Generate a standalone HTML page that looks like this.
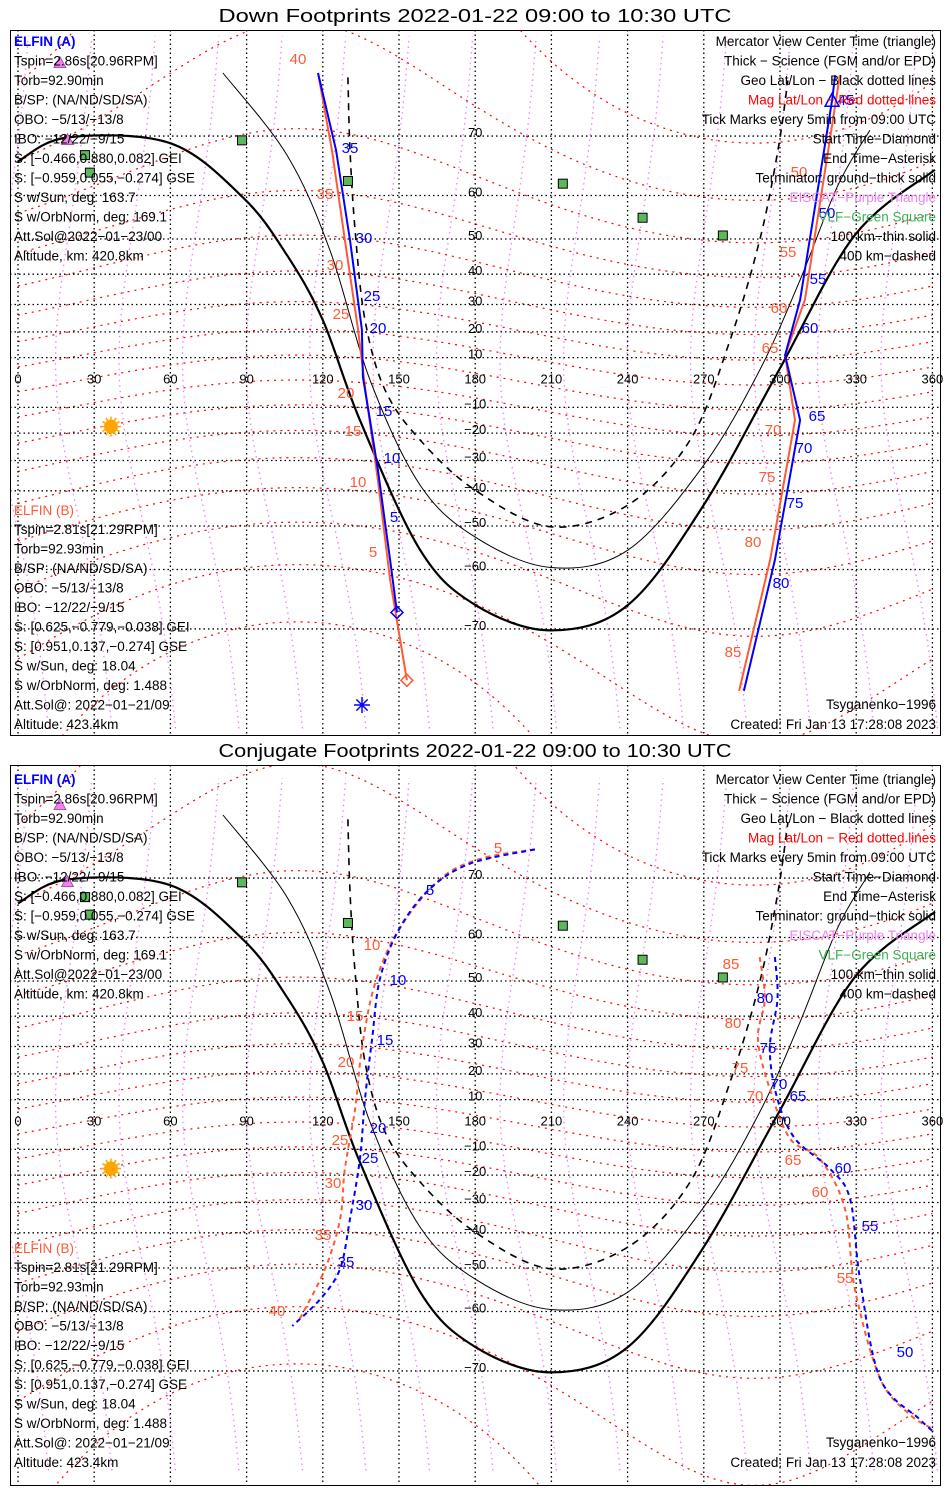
<!DOCTYPE html>
<html><head><meta charset="utf-8">
<style>
html,body{margin:0;padding:0;background:#fff;}
svg{display:block;font-family:"Liberation Sans",sans-serif;}
</style></head>
<body>
<svg id="chart" width="950" height="1500" viewBox="0 0 950 1500" xmlns="http://www.w3.org/2000/svg"></svg>
<script>
// ---------- data (lon, lat in degrees) ----------
const lonTicks = [0,30,60,90,120,150,180,210,240,270,300,330,360];
const latTicks = [70,60,50,40,30,20,10,-10,-20,-30,-40,-50,-60,-70];
const termGround = [[0,66.2],[19.3,69.8],[59.8,69.0],[88.6,59.6],[105.9,45.6],[120,24.4],[134.6,-15.0],[158.3,-55.8],[180,-66.4],[209.8,-70.2],[240.2,-66.4],[270,-44.2],[299.6,5.0],[329.5,51],[361,64.8]];
const term100 = [[80.7,77.1],[105.9,67.2],[122.8,47.0],[138.6,1.0],[158.3,-38.2],[180,-52.8],[209.8,-59.6],[240.2,-55.8],[270,-31.6],[292,5.0],[307.9,38.2],[322.8,62.0],[335.4,70.8]];
const term400 = [[129.9,76.7],[130.7,68],[132.7,52.2],[136.6,24.4],[144.5,-3.0],[158.3,-22.6],[180,-39.8],[209.8,-50.2],[240.2,-44.2],[264.6,-22.6],[280.3,16.8],[292,49.7],[299.2,68],[303.1,76.4]];
// Down footprints
const downA1 = [[118.1,77.1],[125.2,68.0],[130.7,49.7],[135.4,20.8],[135.8,2.2],[138.6,-15.0],[141.7,-33.2],[146.5,-58.0],[149.2,-67.6]];
const downB1 = [[118.1,77.1],[123.6,68],[128.7,49.7],[133.9,20.8],[137.0,-5.0],[141.7,-36.6],[146.5,-62.0],[153.1,-76.0]];
const downA2 = [[321.7,76.9],[320.5,74.4],[307.9,31.6],[302.0,11.0],[307.9,-15.0],[298.0,-58.0],[285.8,-77.0]];
const downB2 = [[323.6,76.9],[309.8,31.6],[302,11],[305.9,-15],[296.1,-58],[283.9,-77]];
// Conjugate footprints
const conjA1 = [[203.5,73.6],[178,71.9],[162,68.4],[150,61.6],[142.5,50.5],[139.4,32.6],[136.6,10.2],[134.6,-13.8],[130.7,-35.6],[126.8,-50.2],[119,-57.4],[108,-62.8]];
const conjB1 = [[203.5,73.6],[182,72.5],[166,69.8],[150,61.6],[140.5,49.2],[135.4,29.2],[132.7,6.2],[128.7,-17.6],[126.8,-35.6],[120.9,-50.2],[111,-61.4]];
const conjA2 = [[298,55.8],[299,45.1],[296,29.2],[299,10.2],[306,-5.8],[319.7,-17.6],[327.6,-28.8],[331.5,-52.8],[339.4,-71],[355,-75.7],[361,-77]];
const conjB2 = [[292,55.8],[294,45.1],[291.3,32.6],[296,14.2],[304,-5.8],[315.7,-13.8],[325.6,-32.2],[329.5,-55.2],[339.4,-71],[351,-75.2],[360,-76.6]];
const vlfSites = [[88.2,69.4],[26.4,67.2],[28.3,64.3],[129.9,62.8],[214.5,62.3],[245.9,55.2],[277.5,50.9]];
const eiscatSites = [[16.5,78],[19.5,69.5]];
const sunPos = [36.6,-17.5];
// tick labels: [text, x, y] relative to page
const downLabA = [["35",350,148],["30",364,238],["25",372,296],["20",378,328],["15",384,411],["10",392,458],["5",394,517],["45",846,100],["50",827,213],["55",818,279],["60",810,328],["65",817,416],["70",804,448],["75",795,503],["80",781,583]];
const downLabB = [["40",298,59],["35",325,194],["30",335,265],["25",341,314],["20",346,393],["15",353,431],["10",358,482],["5",373,552],["50",799,172],["55",788,252],["60",779,308],["65",770,348],["70",773,430],["75",767,477],["80",753,542],["85",733,652]];
const conjLabA = [["5",430,890],["10",398,980],["15",385,1040],["20",378,1128],["25",370,1158],["30",364,1205],["35",346,1262],["80",765,998],["75",768,1048],["70",779,1084],["65",798,1096],["60",843,1168],["55",870,1226],["50",905,1352]];
const conjLabB = [["5",498,848],["10",372,945],["15",355,1016],["20",346,1062],["25",340,1140],["30",333,1183],["35",323,1235],["40",277,1311],["85",731,964],["80",733,1023],["75",740,1068],["70",755,1096],["65",793,1160],["60",820,1192],["55",845,1278]];
const leftA = ["Tspin=2.86s[20.96RPM]","Torb=92.90min","B/SP: (NA/ND/SD/SA)","OBO: −5/13/−13/8","IBO: −12/22/−9/15","S: [−0.466,0.880,0.082] GEI","S: [−0.959,0.055,−0.274] GSE","S w/Sun, deg: 163.7","S w/OrbNorm, deg: 169.1","Att.Sol@2022−01−23/00","Altitude, km: 420.8km"];
const leftB = ["Tspin=2.81s[21.29RPM]","Torb=92.93min","B/SP: (NA/ND/SD/SA)","OBO: −5/13/−13/8","IBO: −12/22/−9/15","S: [0.625,−0.779,−0.038] GEI","S: [0.951,0.137,−0.274] GSE","S w/Sun, deg: 18.04","S w/OrbNorm, deg: 1.488","Att.Sol@: 2022−01−21/09","Altitude: 423.4km"];
const rightLines = [["Mercator View Center Time (triangle)","#000"],["Thick − Science (FGM and/or EPD)","#000"],["Geo Lat/Lon − Black dotted lines","#000"],["Mag Lat/Lon − Red dotted lines","#ff0000"],["Tick Marks every 5min from 09:00 UTC","#000"],["Start Time−Diamond","#000"],["End Time−Asterisk","#000"],["Terminator: ground−thick solid","#000"],["EISCAT−Purple Triangle","#ee82ee"],["VLF−Green Square","#3cb054"],["100 km−thin solid","#000"],["400 km−dashed","#000"]];

// ---------- helpers ----------
const svg = document.getElementById('chart');
const NS = 'http://www.w3.org/2000/svg';
function mk(tag, attrs, parent){ const e=document.createElementNS(NS,tag); for(const k in attrs) e.setAttribute(k,attrs[k]); (parent||svg).appendChild(e); return e; }
function xOf(lon){ return 18 + lon*2.54; }
function yOf(lat, off){ const r=lat*Math.PI/180; return off + 382.5 - 142*Math.log(Math.tan(Math.PI/4 + r/2)); }
function pathOf(pts, off){ return pts.map((p,i)=>(i?'L':'M')+xOf(p[0]).toFixed(1)+','+yOf(p[1],off).toFixed(1)).join(' '); }
function smoothOf(pts, off){
  const P = pts.map(p=>[xOf(p[0]), yOf(p[1],off)]);
  let d = 'M'+P[0][0].toFixed(1)+','+P[0][1].toFixed(1);
  for(let i=0;i<P.length-1;i++){
    const p0=P[Math.max(i-1,0)], p1=P[i], p2=P[i+1], p3=P[Math.min(i+2,P.length-1)];
    const c1=[p1[0]+(p2[0]-p0[0])/6, p1[1]+(p2[1]-p0[1])/6];
    const c2=[p2[0]-(p3[0]-p1[0])/6, p2[1]-(p3[1]-p1[1])/6];
    d += ` C${c1[0].toFixed(1)},${c1[1].toFixed(1)} ${c2[0].toFixed(1)},${c2[1].toFixed(1)} ${p2[0].toFixed(1)},${p2[1].toFixed(1)}`;
  }
  return d;
}
const BLUE='#0000ff', RED='#ff5a36';

function panel(idx, boxTop, boxBot, off, tOff, title, tracks, labA, labB, isDown){
  const g = mk('g',{});
  
  
  const t = mk('text',{x:475,y:boxTop-8,'text-anchor':'middle','font-size':18,textLength:513,lengthAdjust:'spacingAndGlyphs'},g);
  t.textContent = title;
  
  
  const cid='clip'+idx;
  const cp = mk('clipPath',{id:cid},g); mk('rect',{x:10,y:boxTop,width:931,height:boxBot-boxTop},cp);
  const m = mk('g',{'clip-path':'url(#'+cid+')'},g);
  
  
  // magnetic meridians
  for(let L=-10; L<=370; L+=25){
    const pts=[]; for(let la=-80; la<=80; la+=4) pts.push([L + 18*(la/80)*(la/80) - 4*(la/80), la]);
    const p = mk('path',{d:pathOf(pts,off),fill:'none',stroke:'#ee82ee','stroke-width':1.3,'stroke-dasharray':'1.5 4'},m);
    
    
  }
  // magnetic latitude lines
  for(let mm=-80; mm<=80; mm+=10){
    const pts=[]; for(let lo=0; lo<=362; lo+=4){ const la = mm - 11*Math.cos((lo-290)*Math.PI/180); if(la>-82&&la<82) pts.push([lo,la]); }
    const p = mk('path',{d:pathOf(pts,off),fill:'none',stroke:'#ff0000','stroke-width':1.2,'stroke-dasharray':'2 5'},m);
    
    
  }
  // geo grid
  lonTicks.forEach(lo=>{
    const l = mk('line',{x1:xOf(lo),x2:xOf(lo),y1:boxTop,y2:boxBot,stroke:'#000','stroke-width':1.3,'stroke-dasharray':'1.5 3'},m);
    
    
    const tx = mk('text',{x:xOf(lo),y:yOf(0,off)+1,'text-anchor':'middle','font-size':13},g); tx.textContent=lo;
    
    
  });
  latTicks.forEach(la=>{
    const l = mk('line',{x1:10,x2:941,y1:yOf(la,off),y2:yOf(la,off),stroke:'#000','stroke-width':1.3,'stroke-dasharray':'1.5 3'},m);
    
    
    const tx = mk('text',{x:xOf(180),y:yOf(la,off)+1,'text-anchor':'middle','font-size':13},g); tx.textContent=(la<0?'−':'')+Math.abs(la);
    
    
  });
  // terminators
  [[termGround,2.2,'','terminator-ground'],[term100,1,'','terminator-100km'],[term400,1.6,'7 6','terminator-400km']].forEach(d=>{
    const p = mk('path',{d:smoothOf(d[0],off),fill:'none',stroke:'#000','stroke-width':d[1],'stroke-dasharray':d[2]},m);
    
    
  });
  // sites
  vlfSites.forEach(s=>{
    const r = mk('rect',{x:xOf(s[0])-4.5,y:yOf(s[1],off)-4.5,width:9,height:9,fill:'#5cb85c',stroke:'#000','stroke-width':1},m);
    
    
  });
  eiscatSites.forEach(s=>{
    const x=xOf(s[0]), y=yOf(s[1],off);
    const p = mk('polygon',{points:`${x-6},${y+5} ${x+6},${y+5} ${x},${y-6}`,fill:'#ee82ee',stroke:'#a040a0','stroke-width':0.8},m);
    
    
  });
  const sx=xOf(sunPos[0]), sy=yOf(sunPos[1],off);
  const sun = mk('circle',{cx:sx,cy:sy,r:7,fill:'#ffa500'},m);
  
  
  for(let a=0;a<360;a+=30){ const r=a*Math.PI/180; mk('line',{x1:sx+7*Math.cos(r),y1:sy+7*Math.sin(r),x2:sx+10*Math.cos(r),y2:sy+10*Math.sin(r),stroke:'#ffa500','stroke-width':1.5},m); }
  // tracks
  tracks.forEach(tr=>{
    const d = tr[5] ? smoothOf(tr[0],off) : pathOf(tr[0],off);
    const p = mk('path',{d:d,fill:'none',stroke:tr[1],'stroke-width':tr[2],'stroke-dasharray':tr[3]},m);
    
    
  });
  // tick labels
  [[labA,BLUE,'elfin-a-tick-label'],[labB,RED,'elfin-b-tick-label']].forEach(L=>{
    L[0].forEach(l=>{
      const tx = mk('text',{x:l[1],y:l[2]+5,'text-anchor':'middle','font-size':15,fill:L[1]},g); tx.textContent=l[0];
      
      
    });
  });
  if(isDown){
    const a=downA1[downA1.length-1], b=downB1[downB1.length-1];
    [[a,BLUE],[b,RED]].forEach(d=>{
      const x=xOf(d[0][0]), y=yOf(d[0][1],off);
      const p = mk('polygon',{points:`${x},${y-6} ${x+6},${y} ${x},${y+6} ${x-6},${y}`,fill:'none',stroke:d[1],'stroke-width':1.5},g);
      
      
    });
    const ax=362, ay=705;
    const ast = mk('g',{stroke:BLUE,'stroke-width':1.5},g);
    
    
    for(let k=0;k<4;k++){ const r=k*Math.PI/4; mk('line',{x1:ax-8*Math.cos(r),y1:ay-8*Math.sin(r),x2:ax+8*Math.cos(r),y2:ay+8*Math.sin(r)},ast); }
    const tx=xOf(downA2[1][0]), ty=yOf(downA2[1][1],off);
    const tri = mk('polygon',{points:`${tx-7},${ty+6} ${tx+7},${ty+6} ${tx},${ty-7}`,fill:'none',stroke:BLUE,'stroke-width':1.5},g);
    
    
  }
  // text blocks
  const fs=13.5;
  let e = mk('text',{x:14,y:tOff+46,'font-size':fs,fill:BLUE,'font-weight':'bold'},g); e.textContent='ELFIN (A)';
   
  leftA.forEach((s,i)=>{ const t=mk('text',{x:14,y:tOff+65.5+i*19.5,'font-size':fs},g); t.textContent=s;
      });
  e = mk('text',{x:14,y:tOff+515,'font-size':fs,fill:RED},g); e.textContent='ELFIN (B)';
   
  leftB.forEach((s,i)=>{ const t=mk('text',{x:14,y:tOff+534+i*19.5,'font-size':fs},g); t.textContent=s;
      });
  rightLines.forEach((s,i)=>{ const t=mk('text',{x:936,y:tOff+46+i*19.5,'font-size':fs,'text-anchor':'end',fill:s[1]},g); t.textContent=s[0];
      });
  e = mk('text',{x:936,y:tOff+709,'font-size':fs,'text-anchor':'end'},g); e.textContent='Tsyganenko−1996';
   
  e = mk('text',{x:936,y:tOff+729,'font-size':fs,'text-anchor':'end'},g); e.textContent='Created: Fri Jan 13 17:28:08 2023';
   
  const box = mk('rect',{x:10.5,y:boxTop+0.5,width:930,height:boxBot-boxTop,fill:'none',stroke:'#000','stroke-width':1},g);
  
  
}

panel(1, 30, 735, 0, 0, 'Down Footprints 2022-01-22 09:00 to 10:30 UTC',
  [[downB1,RED,2,'','elfin-b-track',false],[downA1,BLUE,2,'','elfin-a-track',false],[downB2,RED,2,'','elfin-b-track-2',false],[downA2,BLUE,2,'','elfin-a-track-2',false]],
  downLabA, downLabB, true);
panel(2, 765, 1485, 742, 738, 'Conjugate Footprints 2022-01-22 09:00 to 10:30 UTC',
  [[conjB1,RED,2,'5 4','elfin-b-conj-track',true],[conjA1,BLUE,2,'5 4','elfin-a-conj-track',true],[conjB2,RED,2,'5 4','elfin-b-conj-track-2',true],[conjA2,BLUE,2,'5 4','elfin-a-conj-track-2',true]],
  conjLabA, conjLabB, false);
</script>
</body></html>
